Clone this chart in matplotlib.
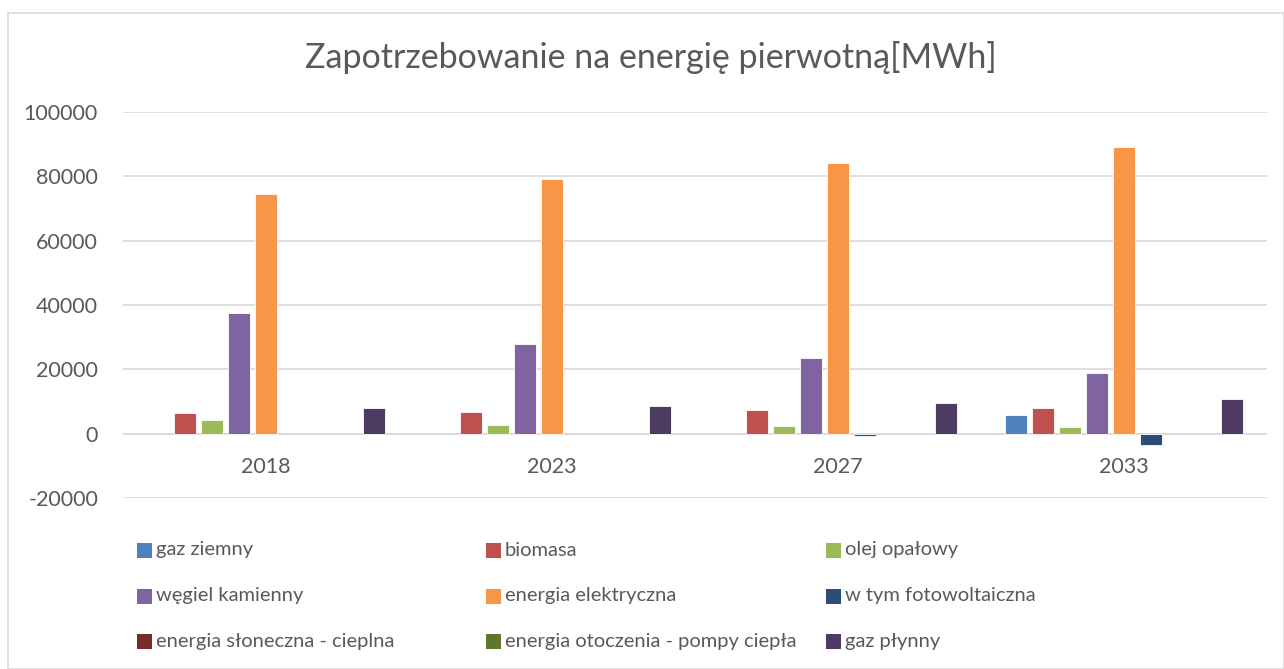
import matplotlib
matplotlib.use("Agg")
import matplotlib.pyplot as plt
from matplotlib.patches import Rectangle
import numpy as np

plt.rcParams['font.family'] = ['Lato', 'DejaVu Sans']

categories = ["2018", "2023", "2027", "2033"]
series_names = ["gaz ziemny", "biomasa", "olej opałowy", "węgiel kamienny",
                "energia elektryczna", "w tym fotowoltaiczna",
                "energia słoneczna - cieplna", "energia otoczenia - pompy ciepła",
                "gaz płynny"]
gaz_ziemny = [0, 0, 0, 5700]
biomasa = [6300, 6800, 7300, 8000]
olej_opalowy = [4200, 2700, 2500, 2200]
wegiel_kamienny = [37500, 27900, 23500, 19000]
energia_elektryczna = [74400, 79300, 84000, 89000]
fotowoltaiczna = [0, 0, -800, -3600]
sloneczna_cieplna = [0, 0, 0, 0]
otoczenia_pompy = [0, 0, 0, 0]
gaz_plynny = [7900, 8700, 9500, 10700]
values = [gaz_ziemny, biomasa, olej_opalowy, wegiel_kamienny, energia_elektryczna,
          fotowoltaiczna, sloneczna_cieplna, otoczenia_pompy, gaz_plynny]
colors = ["#4F81BD", "#C0504D", "#9BBB59", "#8064A2", "#F79646",
          "#2C4D75", "#772C2A", "#5F7530", "#4D3B62"]
yticks = [-20000, 0, 20000, 40000, 60000, 80000, 100000]

W, H = 1284, 669
fig = plt.figure(figsize=(W / 100, H / 100), dpi=100)
# outer border
fig.patches.append(Rectangle((8 / W, 0), (W - 8) / W, (H - 13) / H, transform=fig.transFigure,
                             fill=False, edgecolor="#D9D9D9", linewidth=1.2))

ax_l, ax_r = 123, 1267
ax_top, ax_bot = 112, 498
ax = fig.add_axes([ax_l / W, 1 - ax_bot / H, (ax_r - ax_l) / W, (ax_bot - ax_top) / H])

x = np.arange(len(categories))
pitch = 0.0945
bw = 0.078
n = len(series_names)
for i, (vals, c) in enumerate(zip(values, colors)):
    offs = (i - (n - 1) / 2) * pitch
    v = np.array(vals, dtype=float)
    ax.bar(x + offs, v, width=bw, color=c,
           edgecolor=["white" if vv != 0 else "none" for vv in v],
           linewidth=0.6, zorder=3)

ax.set_xlim(-0.5, len(categories) - 0.5)
ax.set_ylim(-20000, 100000)
ax.set_yticks(yticks)
ax.set_yticklabels([str(t) for t in yticks], fontsize=15.5, color="#595959")
ax.grid(axis="y", color="#D9D9D9", linewidth=1.2, zorder=0)
ax.axhline(0, color="#D9D9D9", linewidth=1.2, zorder=2)
for s in ax.spines.values():
    s.set_visible(False)
ax.tick_params(axis="both", length=0)
ax.tick_params(axis="y", pad=18)
ax.set_xticks([])
for xi, cat in zip(x, categories):
    ax.annotate(cat, (xi, 0), xytext=(0, -24), textcoords="offset points",
                ha="center", va="center", fontsize=15.5, color="#595959")

fig.text(651 / W, 1 - 58 / H, "Zapotrzebowanie na energię pierwotną[MWh]", ha="center", va="center",
         fontsize=24.5, color="#595959")

# legend, row-major in 3 columns
col_x = [137, 486, 826]
row_y = [550, 596, 641]
for i, (name, c) in enumerate(zip(series_names, colors)):
    r, cc = divmod(i, 3)
    px, py = col_x[cc], row_y[r]
    fig.patches.append(Rectangle((px / W, 1 - (py + 7.5) / H), 15 / W, 15 / H,
                                 transform=fig.transFigure, facecolor=c, edgecolor="none"))
    fig.text((px + 19) / W, 1 - py / H, name, ha="left", va="center", fontsize=14.5, color="#595959")

fig.savefig("out.png", dpi=100)
